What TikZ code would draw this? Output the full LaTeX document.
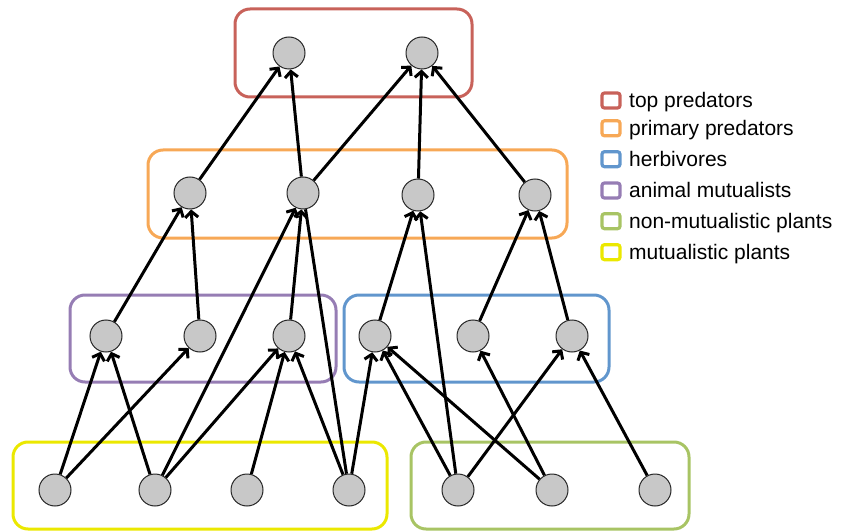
\documentclass[tikz,border=0pt]{standalone}
\usepackage{fontspec}
\setmainfont{Liberation Sans}
\usetikzlibrary{arrows.meta}
\definecolor{cred}{RGB}{200,98,90}
\definecolor{corange}{RGB}{247,168,86}
\definecolor{cblue}{RGB}{97,150,205}
\definecolor{cpurple}{RGB}{150,125,180}
\definecolor{cgreen}{RGB}{168,196,100}
\definecolor{cyellow}{RGB}{235,232,0}
\definecolor{nodegray}{RGB}{200,200,200}
\tikzset{
  sp/.style={circle, fill=nodegray, draw=black!85, line width=1pt, minimum size=32pt, inner sep=0pt},
  group/.style={draw=#1, line width=3pt, rounded corners=15pt},
  link/.style={line width=3pt, -{Straight Barb[length=6pt,width=13pt,line width=3pt]}},
  plain/.style={line width=3pt},
  lgbox/.style={draw=#1, line width=3.2pt, fill=white, rounded corners=2.5pt, minimum width=18pt, minimum height=15pt, inner sep=0pt},
  lgtext/.style={anchor=base west, inner sep=0pt, font=\fontsize{21pt}{24pt}\selectfont}
}
\begin{document}
\begin{tikzpicture}[x=1pt,y=-1pt]
\useasboundingbox (0,0) rectangle (846,532);
% group boxes
\draw[group=cred] (235,9) rectangle (472,97);
\draw[group=corange] (148,150) rectangle (567,238);
\draw[group=cpurple] (70,295) rectangle (336,382);
\draw[group=cblue] (344,295) rectangle (609,382);
\draw[group=cyellow] (13,442) rectangle (387,529);
\draw[group=cgreen] (411,442) rectangle (689,529);
% nodes
\node[sp] (T1) at (289,53) {};
\node[sp] (T2) at (422,53) {};
\node[sp] (P1) at (190,193) {};
\node[sp] (P2) at (303,193) {};
\node[sp] (P3) at (418,195) {};
\node[sp] (P4) at (535,195) {};
\node[sp] (A1) at (106,336) {};
\node[sp] (A2) at (200,336) {};
\node[sp] (A3) at (289,336) {};
\node[sp] (H1) at (375,336) {};
\node[sp] (H2) at (473,336) {};
\node[sp] (H3) at (572,336) {};
\node[sp] (M1) at (55,490) {};
\node[sp] (M2) at (155,490) {};
\node[sp] (M3) at (247,490) {};
\node[sp] (M4) at (349,490) {};
\node[sp] (N1) at (458,490) {};
\node[sp] (N2) at (552,490) {};
\node[sp] (N3) at (655,490) {};
% edges
\draw[link] (P1) -- (T1);
\draw[link] (P2) -- (T1);
\draw[link] (P2) -- (T2);
\draw[link] (P3) -- (T2);
\draw[link] (P4) -- (T2);
\draw[link] (A1) -- (P1);
\draw[link] (A2) -- (P1);
\draw[link] (M2) -- (P2);
\draw[link] (A3) -- (P2);
\draw[plain] (M4) -- (P2);
\draw[link] (H1) -- (P3);
\draw[link] (N1) -- (P3);
\draw[link] (H2) -- (P4);
\draw[link] (H3) -- (P4);
\draw[link] (M1) -- (A1);
\draw[link] (M2) -- (A1);
\draw[link] (M1) -- (A2);
\draw[link] (M2) -- (A3);
\draw[link] (M3) -- (A3);
\draw[link] (M4) -- (A3);
\draw[link] (M4) -- (H1);
\draw[link] (N1) -- (H1);
\draw[link] (N2) -- (H1);
\draw[link] (N2) -- (H2);
\draw[link] (N1) -- (H3);
\draw[link] (N3) -- (H3);
% legend
\node[lgbox=cred] (L1) at (611,100.5) {};
\node[lgbox=corange] (L2) at (611,128.3) {};
\node[lgbox=cblue] (L3) at (611,159.2) {};
\node[lgbox=cpurple] (L4) at (611,190.5) {};
\node[lgbox=cgreen] (L5) at (611,221.2) {};
\node[lgbox=cyellow] (L6) at (611,252.2) {};
\node[lgtext] (t1) at (629,107.5) {top predators};
\node[lgtext] (t2) at (629,135.3) {primary predators};
\node[lgtext] (t3) at (629,166.2) {herbivores};
\node[lgtext] (t4) at (629,197.5) {animal mutualists};
\node[lgtext] (t5) at (629,228.2) {non-mutualistic plants};
\node[lgtext] (t6) at (629,259.2) {mutualistic plants};
\end{tikzpicture}
\end{document}
